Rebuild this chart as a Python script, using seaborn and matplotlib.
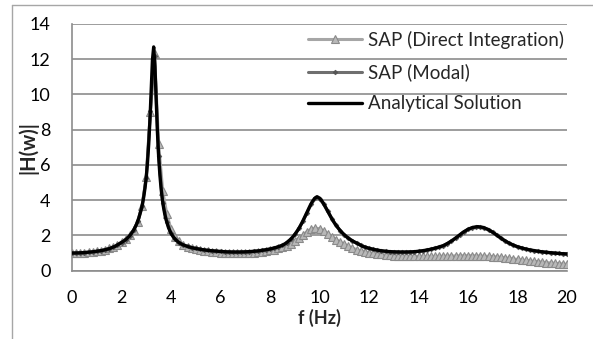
import numpy as np
import matplotlib
matplotlib.use("Agg")
import matplotlib.pyplot as plt
from matplotlib.lines import Line2D
from matplotlib.ticker import MultipleLocator
import seaborn as sns

# Analytical frequency response |H(w)| (dense sampling around the peaks)
analytical_f = [
    0.0, 0.25, 0.5, 0.75, 1.0, 1.25, 1.5, 1.75, 2.0,
    2.1, 2.2, 2.3, 2.4, 2.5, 2.6, 2.7, 2.8,
    2.85, 2.9, 2.95, 3.0, 3.05, 3.1, 3.15, 3.2, 3.25, 3.3, 3.35, 3.4, 3.45,
    3.5, 3.55, 3.6, 3.65, 3.7, 3.75, 3.8,
    3.9, 4.0, 4.1, 4.2, 4.3, 4.4, 4.5, 4.6, 4.7, 4.8, 4.9, 5.0,
    5.25, 5.5, 5.75, 6.0, 6.25, 6.5, 6.75, 7.0, 7.25, 7.5, 7.75, 8.0, 8.25, 8.5,
    8.6, 8.7, 8.8, 8.9, 9.0, 9.1, 9.2, 9.3, 9.4, 9.5, 9.6, 9.7, 9.8, 9.9,
    10.0, 10.1, 10.2, 10.3, 10.4, 10.5, 10.6, 10.7, 10.8, 10.9, 11.0,
    11.1, 11.2, 11.3, 11.4, 11.5,
    11.75, 12.0, 12.25, 12.5, 12.75, 13.0, 13.25, 13.5, 13.75, 14.0,
    14.25, 14.5, 14.75,
    15.0, 15.2, 15.4, 15.6, 15.8, 16.0, 16.2, 16.4, 16.6, 16.8, 17.0,
    17.2, 17.4, 17.6, 17.8, 18.0,
    18.25, 18.5, 18.75, 19.0, 19.25, 19.5, 19.75, 20.0,
]
analytical_h = [
    1.00, 1.01, 1.03, 1.06, 1.10, 1.16, 1.25, 1.39, 1.60,
    1.69, 1.80, 1.94, 2.11, 2.33, 2.61, 2.99, 3.49,
    3.80, 4.20, 4.70, 5.30, 6.13, 7.19, 8.58, 10.30, 11.95, 12.70, 11.60, 9.70, 7.90,
    6.50, 5.45, 4.65, 4.05, 3.58, 3.20, 2.90,
    2.44, 2.12, 1.90, 1.74, 1.62, 1.53, 1.46, 1.41, 1.36, 1.32, 1.29, 1.26,
    1.20, 1.15, 1.12, 1.09, 1.07, 1.06, 1.06, 1.07, 1.09, 1.12, 1.17, 1.23, 1.32, 1.44,
    1.52, 1.62, 1.74, 1.88, 2.05, 2.25, 2.48, 2.74, 3.03, 3.33, 3.63, 3.90, 4.10, 4.20,
    4.12, 3.95, 3.72, 3.46, 3.20, 2.95, 2.72, 2.52, 2.34, 2.18, 2.04,
    1.92, 1.81, 1.72, 1.64, 1.57,
    1.38, 1.27, 1.19, 1.13, 1.09, 1.07, 1.06, 1.06, 1.07, 1.10,
    1.15, 1.22, 1.31,
    1.42, 1.57, 1.75, 1.96, 2.18, 2.35, 2.46, 2.50, 2.46, 2.35, 2.18,
    1.98, 1.78, 1.61, 1.47, 1.36,
    1.26, 1.18, 1.12, 1.07, 1.03, 1.00, 0.97, 0.95,
]

# SAP2000 output frequencies: 0 to 20 Hz, 120 equal steps
sap_f = np.linspace(0.0, 20.0, 121)

# SAP modal analysis
sap_modal_h = [
    1.00, 1.00, 1.01, 1.03, 1.04, 1.07, 1.10, 1.14, 1.19, 1.25,
    1.33, 1.44, 1.60, 1.74, 1.98, 2.32, 2.84, 3.70, 5.28, 9.05,
    12.20, 6.50, 3.85, 2.75, 2.12, 1.79, 1.60, 1.46, 1.38, 1.31,
    1.26, 1.22, 1.18, 1.15, 1.13, 1.11, 1.09, 1.08, 1.07, 1.06,
    1.06, 1.06, 1.07, 1.08, 1.10, 1.12, 1.15, 1.19, 1.23, 1.29,
    1.36, 1.44, 1.59, 1.78, 2.06, 2.40, 2.82, 3.30, 3.78, 4.10,
    4.08, 3.78, 3.36, 2.94, 2.57, 2.28, 2.03, 1.84, 1.69, 1.56,
    1.45, 1.36, 1.27, 1.21, 1.16, 1.13, 1.10, 1.08, 1.07, 1.06,
    1.06, 1.06, 1.07, 1.08, 1.10, 1.13, 1.17, 1.22, 1.28, 1.34,
    1.42, 1.54, 1.69, 1.85, 2.03, 2.20, 2.34, 2.44, 2.47, 2.46,
    2.41, 2.32, 2.18, 2.01, 1.84, 1.69, 1.56, 1.45, 1.36, 1.29,
    1.23, 1.18, 1.14, 1.10, 1.07, 1.05, 1.03, 1.00, 0.98, 0.97,
    0.95,
]

# SAP direct integration time history
sap_direct_h = [
    1.00, 1.00, 1.01, 1.03, 1.05, 1.07, 1.10, 1.14, 1.19, 1.26,
    1.34, 1.46, 1.62, 1.80, 2.02, 2.33, 2.78, 3.68, 5.30, 9.00,
    12.30, 7.20, 4.50, 3.20, 2.35, 1.92, 1.66, 1.48, 1.37, 1.29,
    1.23, 1.18, 1.14, 1.10, 1.07, 1.05, 1.03, 1.01, 1.00, 0.99,
    0.99, 0.99, 1.00, 1.01, 1.03, 1.05, 1.08, 1.11, 1.15, 1.20,
    1.26, 1.33, 1.42, 1.54, 1.68, 1.85, 2.03, 2.22, 2.36, 2.42,
    2.38, 2.26, 2.10, 1.93, 1.77, 1.62, 1.49, 1.38, 1.28, 1.20,
    1.13, 1.07, 1.02, 0.98, 0.95, 0.92, 0.90, 0.88, 0.86, 0.85,
    0.84, 0.83, 0.82, 0.82, 0.81, 0.81, 0.81, 0.81, 0.81, 0.82,
    0.82, 0.83, 0.83, 0.84, 0.84, 0.85, 0.85, 0.85, 0.84, 0.83,
    0.82, 0.82, 0.80, 0.78, 0.76, 0.73, 0.70, 0.67, 0.64, 0.61,
    0.58, 0.56, 0.53, 0.51, 0.49, 0.46, 0.44, 0.42, 0.40, 0.38,
    0.36,
]

series_labels = ["SAP (Direct Integration)", "SAP (Modal)", "Analytical Solution"]
x_label = "f (Hz)"
y_label = "|H(w)|"

sns.set_theme(style="white")
plt.rcParams["font.family"] = ["Lato", "DejaVu Sans"]

W, H = 593, 339
fig = plt.figure(figsize=(W / 100, H / 100), dpi=100)
ax_left, ax_right, ax_top, ax_bottom = 72, 567, 24, 270.7
ax = fig.add_axes([ax_left / W, 1 - ax_bottom / H,
                   (ax_right - ax_left) / W, (ax_bottom - ax_top) / H])

sns.lineplot(x=sap_f, y=sap_direct_h, ax=ax, color="#a6a6a6", linewidth=2.2,
             marker="^", markersize=5.2, markerfacecolor="#b8b8b8",
             markeredgecolor="#8a8a8a", markeredgewidth=0.8,
             label=series_labels[0], zorder=3, sort=False)
sns.lineplot(x=sap_f, y=sap_modal_h, ax=ax, color="#6f6f6f", linewidth=2.2,
             marker="D", markersize=2.4, markerfacecolor="#555555",
             markeredgecolor="#555555", markeredgewidth=0.5,
             label=series_labels[1], zorder=4, sort=False)
sns.lineplot(x=analytical_f, y=analytical_h, ax=ax, color="black", linewidth=2.4,
             label=series_labels[2], zorder=5, sort=False)

ax.set_xlim(0, 20)
ax.set_ylim(0, 14)
ax.xaxis.set_major_locator(MultipleLocator(2))
ax.xaxis.set_minor_locator(MultipleLocator(1))
ax.yaxis.set_major_locator(MultipleLocator(2))
ax.yaxis.set_minor_locator(MultipleLocator(1))

grid_c = "#8c8c8c"
ax.grid(axis="y", which="major", color=grid_c, linewidth=1.2, zorder=0)
ax.set_axisbelow(True)
for side in ("top", "right"):
    ax.spines[side].set_visible(False)
for side in ("left", "bottom"):
    ax.spines[side].set_color(grid_c)
    ax.spines[side].set_linewidth(1.2)

ax.tick_params(axis="y", which="major", direction="out", length=5, width=1.2,
               color=grid_c, labelsize=13, pad=10.5, labelcolor="black")
ax.tick_params(axis="y", which="minor", direction="inout", length=8, width=1.2,
               color=grid_c)
ax.tick_params(axis="x", which="both", direction="inout", length=8, width=1.2,
               color=grid_c, labelsize=13, pad=10, labelcolor="black")

ax.set_xlabel(x_label, fontsize=13, fontweight="bold", labelpad=2)
ax.set_ylabel(y_label, fontsize=14.5, fontweight="bold")
ax.yaxis.set_label_coords((38.5 - ax_left) / (ax_right - ax_left), 0.5)

leg = ax.legend(loc="upper left", bbox_to_anchor=((308 - ax_left) / (ax_right - ax_left), 0.972),
                frameon=False, fontsize=13.5, handlelength=2.9, handletextpad=0.28,
                labelspacing=0.76, borderaxespad=0.0, borderpad=0.0)

# chart area border
border_c = "#a6a6a6"
fig.add_artist(Line2D([12 / W, 12 / W], [0, 1 - 5 / H], color=border_c,
                      linewidth=1.0, transform=fig.transFigure))
fig.add_artist(Line2D([12 / W, 1], [1 - 5 / H, 1 - 5 / H], color=border_c,
                      linewidth=1.0, transform=fig.transFigure))

fig.savefig("out.png", dpi=100)
